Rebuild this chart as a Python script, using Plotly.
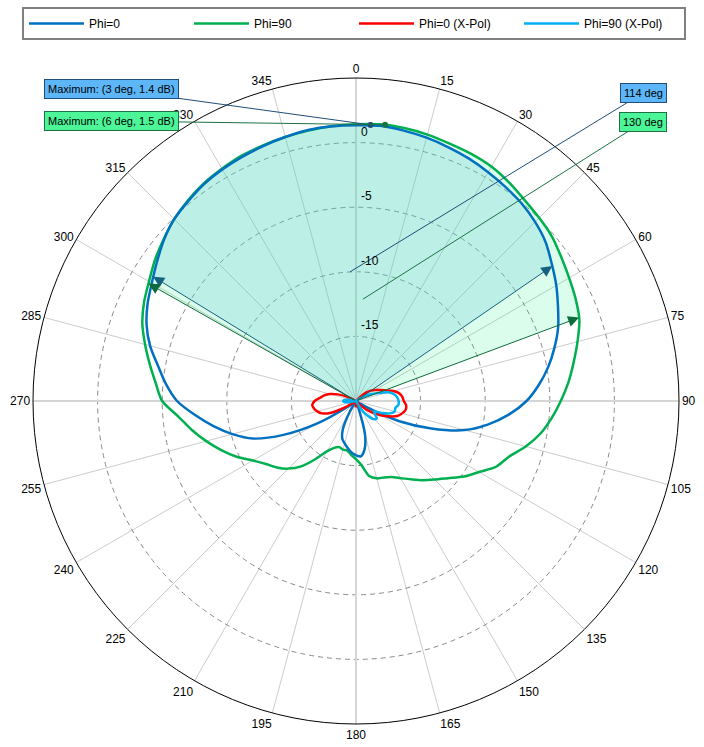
import numpy as np
import plotly.graph_objects as go

# ---------------- data ----------------
ANGLES = list(range(0, 360, 5))

PHI0 = [1.35, 1.38, 1.25, 1.1, 0.9, 0.7, 0.45, 0.2, -0.05, -0.4, -0.85, -1.5,
        -2.1, -2.75, -3.35, -4.1, -4.9, -5.8, -6.8, -8.1, -9.6, -11.3, -13.8, -16.3,
        -19.0, -20, -20, -20, -20, -20, -20, -20, -19.5, -17.3, -16.2, -15.7,
        -15.8, -16.0, -16.3, -16.6, -16.9, -17.6, -19.0, -20, -20, -20, -20, -19.3,
        -16.5, -13.8, -11.5, -10.1, -8.8, -7.5, -6.15, -5.25, -4.45, -3.5, -2.75, -2.2,
        -1.75, -1.2, -0.6, -0.1, 0.2, 0.5, 0.7, 0.85, 1.0, 1.15, 1.3, 1.35]

PHI90 = [1.42, 1.5, 1.45, 1.35, 1.2, 1.1, 0.95, 0.65, 0.3, 0.05, -0.2, -0.6,
         -0.95, -1.25, -1.6, -2.25, -2.9, -3.5, -4.15, -4.8, -5.5, -6.4, -7.4, -8.0,
         -9.0, -9.8, -10.7, -11.4, -12.0, -12.6, -13.1, -13.5, -13.7, -13.8, -14.1, -15.0,
         -15.5, -15.8, -16.1, -16.1, -16.2, -16.0, -15.5, -14.5, -13.4, -12.6, -12.0, -11.5,
         -10.8, -9.8, -8.9, -8.0, -7.1, -6.2, -5.0, -4.45, -3.8, -3.1, -2.4, -1.9,
         -1.5, -1.0, -0.55, -0.1, 0.25, 0.55, 0.75, 0.95, 1.05, 1.15, 1.25, 1.35]

PHI0_XPOL = [-20, -20, -20, -20, -20, -20, -20, -20, -20, -19.6, -19.0, -18.6,
             -18.3, -18.0, -17.6, -17.0, -16.6, -16.4, -16.3, -16.1, -16.1, -16.3, -16.6, -17.2,
             -17.8, -18.4, -19.0, -19.6, -20, -20, -20, -20, -20, -20, -20, -20,
             -19.5, -20, -20, -20, -20, -20, -20, -20, -20, -20, -20, -20,
             -19.0, -17.8, -17.2, -16.9, -16.7, -16.6, -16.8, -17.2, -17.5, -17.9, -18.5, -19.2,
             -20, -20, -20, -20, -20, -20, -20, -20, -20, -20, -20, -20]

PHI90_XPOL = [-20, -20, -20, -20, -20, -20, -20, -20, -20, -20, -20, -20,
              -19.3, -18.8, -18.2, -17.4, -17.0, -16.8, -16.7, -16.7, -16.9, -16.9, -17.2, -17.8,
              -18.4, -18.2, -17.9, -18.0, -18.4, -18.9, -19.5, -20, -20, -20, -20, -20,
              -20, -20, -20, -20, -20, -20, -20, -20, -20, -20, -20, -20,
              -20, -20, -20, -20, -19.6, -19.1, -19.0, -19.1, -19.6, -20, -20, -20,
              -20, -20, -20, -20, -20, -20, -20, -20, -20, -20, -20, -20]

SERIES_NAMES = ["Phi=0", "Phi=90", "Phi=0 (X-Pol)", "Phi=90 (X-Pol)"]
SERIES_COLORS = ["#0070C0", "#00B050", "#FF0000", "#00B0F0"]

ANGLE_TICKS = list(range(0, 360, 15))
RADIAL_TICKS = [-15, -10, -5, 0]
R_MIN, R_MAX = -20, 5

MAX_PHI0 = (3, 1.4)        # (deg, dB)
MAX_PHI90 = (6, 1.5)
BEAM_PHI0 = (-58.5, 55.5)  # 3 dB beam edges (deg)
BEAM_PHI90 = (-60.5, 69.5)
BEAM_LABEL_PT_PHI0 = (-2.7, -10.0)   # (deg, dB) where label leader ends
BEAM_LABEL_PT_PHI90 = (3.9, -12.1)

# ---------------- geometry ----------------
W, H = 704, 747
CX, CY, RPX = 356, 401, 323
DOM_X = [(CX - RPX) / W, (CX + RPX) / W]
DOM_Y = [1 - (CY + RPX) / H, 1 - (CY - RPX) / H]
SPAN = R_MAX - R_MIN
PPU = RPX / SPAN
FONT = "Liberation Sans, Arial, sans-serif"


def to_xy(theta, r):
    rho = r - R_MIN
    t = np.radians(theta)
    return float(rho * np.sin(t)), float(rho * np.cos(t))


def px_to_xy(px, py):
    return (px - CX) / PPU, (CY - py) / PPU


def interp_at(values, ang):
    a = np.array(ANGLES, float)
    v = np.array(values, float)
    s = (a + 180) % 360 - 180
    o = np.argsort(s)
    s, v = s[o], v[o]
    s_ext = np.concatenate([s - 360, s, s + 360])
    v_ext = np.tile(v, 3)
    return float(np.interp(ang, s_ext, v_ext)), s, v


def beam_sector(values, lo, hi):
    vlo, s, v = interp_at(values, lo)
    vhi, _, _ = interp_at(values, hi)
    m = (s > lo) & (s < hi)
    theta = [lo, lo] + list(s[m]) + [hi, hi]
    r = [R_MIN, vlo] + list(v[m]) + [vhi, R_MIN]
    return theta, r


fig = go.Figure()

# emphasised main spokes
for a, b in [(0, 180), (90, 270)]:
    fig.add_trace(go.Scatterpolar(r=[R_MAX, R_MIN, R_MAX], theta=[a, a, b], mode="lines",
                                  line=dict(color="#D6D6D6", width=2), showlegend=False,
                                  hoverinfo="skip"))

# beam sectors
th, rr = beam_sector(PHI90, *BEAM_PHI90)
fig.add_trace(go.Scatterpolar(r=rr, theta=th, mode="lines", fill="toself",
                              fillcolor="rgba(0,240,110,0.14)", line=dict(width=0),
                              showlegend=False, hoverinfo="skip"))
th, rr = beam_sector(PHI0, *BEAM_PHI0)
fig.add_trace(go.Scatterpolar(r=rr, theta=th, mode="lines", fill="toself",
                              fillcolor="rgba(100,205,215,0.26)", line=dict(width=0),
                              showlegend=False, hoverinfo="skip"))

# pattern curves
series = [PHI0, PHI90, PHI0_XPOL, PHI90_XPOL]
for idx in [1, 0, 2, 3]:
    vals = series[idx]
    fig.add_trace(go.Scatterpolar(r=vals + [vals[0]], theta=ANGLES + [360], mode="lines",
                                  name=SERIES_NAMES[idx], legendrank=idx + 1,
                                  line=dict(color=SERIES_COLORS[idx], width=2.5,
                                            shape="spline", smoothing=0.8)))

# maximum markers
fig.add_trace(go.Scatterpolar(r=[MAX_PHI0[1]], theta=[MAX_PHI0[0]], mode="markers",
                              marker=dict(color="#1F4E79", size=6), showlegend=False))
fig.add_trace(go.Scatterpolar(r=[MAX_PHI90[1]], theta=[MAX_PHI90[0]], mode="markers",
                              marker=dict(color="#1E7145", size=6), showlegend=False))

# invisible cartesian overlay for annotations
fig.add_trace(go.Scatter(x=[None], y=[None], xaxis="x", yaxis="y", showlegend=False,
                         hoverinfo="skip"))

ann = []
# beam edge arrows
for vals, beam, col in [(PHI0, BEAM_PHI0, "#17607F"), (PHI90, BEAM_PHI90, "#0E6B3A")]:
    for edge in beam:
        v, _, _ = interp_at(vals, edge)
        x, y = to_xy(edge, v)
        ax, ay = to_xy(edge, R_MIN)
        ann.append(dict(x=x, y=y, ax=ax, ay=ay, xref="x", yref="y", axref="x", ayref="y",
                        text="", showarrow=True, arrowhead=2, arrowsize=2.2,
                        arrowwidth=1, arrowcolor=col, standoff=0, startstandoff=0))

# beam width labels
for beam, pt, pos, fill, border in [
        (BEAM_PHI0, BEAM_LABEL_PT_PHI0, (643, 93), "#5DB6F7", "#1F4E79"),
        (BEAM_PHI90, BEAM_LABEL_PT_PHI90, (643, 122), "#4CF597", "#1E7145")]:
    x, y = to_xy(*pt)
    ax, ay = px_to_xy(*pos)
    ann.append(dict(x=x, y=y, ax=ax, ay=ay, xref="x", yref="y", axref="x", ayref="y",
                    text=f"{beam[1] - beam[0]:.0f} deg", showarrow=True, arrowhead=0,
                    arrowwidth=1, arrowcolor=border, bgcolor=fill, bordercolor=border,
                    borderwidth=1, borderpad=3, font=dict(size=11, color="black", family=FONT)))

# maximum labels
for mx, pos, fill, border in [(MAX_PHI0, (111, 89), "#5DB6F7", "#1F4E79"),
                              (MAX_PHI90, (111, 121), "#4CF597", "#1E7145")]:
    x, y = to_xy(mx[0], mx[1])
    ax, ay = px_to_xy(*pos)
    ann.append(dict(x=x, y=y, ax=ax, ay=ay, xref="x", yref="y", axref="x", ayref="y",
                    text=f"Maximum: ({mx[0]} deg, {mx[1]} dB)", showarrow=True, arrowhead=0,
                    arrowwidth=1, arrowcolor=border, bgcolor=fill, bordercolor=border,
                    borderwidth=1, borderpad=3, font=dict(size=11, color="black", family=FONT)))

# radial tick labels
for v in RADIAL_TICKS:
    x, y = to_xy(0, v)
    ann.append(dict(x=x + 3 / PPU, y=y + 11 / PPU, xref="x", yref="y", text=str(v),
                    showarrow=False, xanchor="left", yanchor="middle",
                    font=dict(size=12, color="black", family=FONT)))

fig.update_layout(
    width=W, height=H,
    margin=dict(l=0, r=0, t=0, b=0),
    paper_bgcolor="white", plot_bgcolor="rgba(0,0,0,0)",
    font=dict(family=FONT, size=12, color="black"),
    polar=dict(
        domain=dict(x=DOM_X, y=DOM_Y),
        bgcolor="white",
        angularaxis=dict(direction="clockwise", rotation=90, tickmode="array",
                         tickvals=ANGLE_TICKS, ticktext=[str(a) for a in ANGLE_TICKS],
                         showline=True, linecolor="black", linewidth=1,
                         gridcolor="#CCCCCC", gridwidth=1, ticks="",
                         tickfont=dict(size=12, color="black", family=FONT)),
        radialaxis=dict(range=[R_MIN, R_MAX], tickmode="array", tickvals=RADIAL_TICKS,
                        showticklabels=False, showline=False, ticks="", angle=90,
                        gridcolor="#8A8A8A", gridwidth=1, griddash="5px,4px"),
    ),
    xaxis=dict(domain=DOM_X, range=[-SPAN, SPAN], visible=False, fixedrange=True),
    yaxis=dict(domain=DOM_Y, range=[-SPAN, SPAN], visible=False, fixedrange=True),
    legend=dict(orientation="h", x=22 / W, y=1 - 7 / H, xanchor="left", yanchor="top",
                bordercolor="#808080", borderwidth=2, bgcolor="white",
                itemwidth=55, entrywidth=95, entrywidthmode="pixels",
                font=dict(size=12, color="black", family=FONT)),
    annotations=ann,
    showlegend=True,
)

fig.write_html("out.html")
